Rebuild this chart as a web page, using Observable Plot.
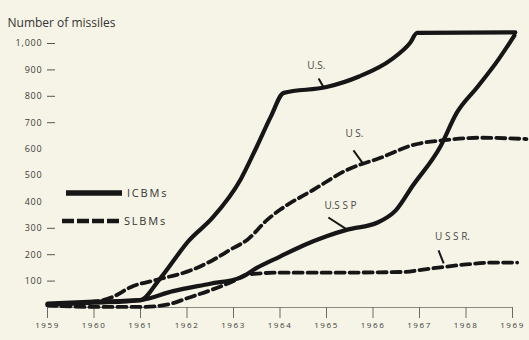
<!DOCTYPE html>
<html><head><meta charset="utf-8">
<script src="https://cdn.jsdelivr.net/npm/d3@7"></script>
<script src="https://cdn.jsdelivr.net/npm/@observablehq/plot@0.6"></script>
<style>
html,body{margin:0;padding:0;background:#f6f4e6;}
#chart svg{display:block;}
</style></head><body><div id="chart"></div>
<script>
// ---- data ----
const yearTicks = [1959,1960,1961,1962,1963,1964,1965,1966,1967,1968,1969];
const valueTicks = [100,200,300,400,500,600,700,800,900,1000];
const dashedValueTicks = [100,200,300,700,800,900,1000];

const usIcbmYears  = [1959,1960,1961.0,1961.4,1962.05,1962.55,1963.15,1963.5,1963.8,1964.08,1965.0,1965.7,1966.4,1966.8,1966.95,1969.06];
const usIcbmValues = [15,22,28,105,255,340,484,609,722,813,835,875,940,1003,1040,1042];

const ussrIcbmYears  = [1959,1960,1961,1961.7,1962.5,1963.15,1963.5,1964,1964.5,1965,1965.45,1966.1,1966.5,1966.85,1967.45,1967.8,1968.25,1968.7,1969.04];
const ussrIcbmValues = [10,18,28,62,90,113,150,193,235,270,295,322,370,460,610,737,836,940,1030];

const usSlbmYears  = [1959,1960,1960.4,1960.8,1961.35,1962.07,1962.57,1962.93,1963.3,1963.73,1964,1964.72,1965.45,1966.16,1966.87,1967.6,1968.3,1969.3];
const usSlbmValues = [12,22,40,78,105,140,181,219,257,333,370,446,522,567,616,635,643,638];

const ussrSlbmYears  = [1959,1960,1961,1961.6,1962,1962.5,1963,1963.3,1964,1965,1966,1966.7,1967,1967.45,1968,1968.6,1969.1];
const ussrSlbmValues = [8,2,2,12,35,65,100,125,132,132,133,135,142,152,163,170,170];

const labelTexts  = ["U.S.","U S.","U.S S P","U S S R."];
const labelYears  = [1964.78,1965.6,1965.3,1967.71];
const labelValues = [917,659,386,269];
const pointerFromYears  = [1964.83,1965.58,1965.04,1967.41];
const pointerFromValues = [867,595,341,216];
const pointerToYears    = [1964.94,1965.77,1965.41,1967.52];
const pointerToValues   = [833,549,299,167];

const titleText = "Number of missiles";
const legendNames = ["ICBMs","SLBMs"];

// ---- build tables ----
function rows(name, ys, vs){ return ys.map((y,i)=>({series:name, year:y, value:vs[i]})); }
const icbmRows = [...rows("US ICBM", usIcbmYears, usIcbmValues), ...rows("USSR ICBM", ussrIcbmYears, ussrIcbmValues)];
const slbmRows = [...rows("US SLBM", usSlbmYears, usSlbmValues), ...rows("USSR SLBM", ussrSlbmYears, ussrSlbmValues)];
const labels = labelTexts.map((t,i)=>({text:t, year:labelYears[i], value:labelValues[i]}));
const pointers = labelTexts.map((t,i)=>({x1:pointerFromYears[i], y1:pointerFromValues[i], x2:pointerToYears[i], y2:pointerToValues[i]}));

const W = 529, H = 340, ML = 47, MR = 17;
const ink = "#161616";

const chart = Plot.plot({
  width: W, height: H,
  marginLeft: ML, marginRight: MR, marginTop: 43, marginBottom: 33,
  style: {background: "#f6f4e6", fontFamily: "'Open Sans', sans-serif", fontSize: "8px", color: "#3a3a3a", overflow: "visible"},
  x: {domain: [1959, 1969]},
  y: {domain: [0, 1000]},
  marks: [
    Plot.ruleY([0], {stroke: "#8a8a84", strokeWidth: 1}),
    Plot.axisX({ticks: yearTicks, tickFormat: d => String(d), tickSize: 11, tickPadding: 4, stroke: "#6a6a66", label: null, fontSize: 8}),
    Plot.axisY({ticks: valueTicks, tickSize: 0, tickPadding: 5, label: null, fontSize: 9}),
    Plot.tickY(dashedValueTicks, {y: d => d, insetRight: W - ML - MR - 8, stroke: "#555", strokeWidth: 1}),
    Plot.line(slbmRows, {x: "year", y: "value", z: "series", curve: "monotone-x", stroke: ink, strokeWidth: 3.8, strokeDasharray: "9,5"}),
    Plot.line(icbmRows, {x: "year", y: "value", z: "series", curve: "monotone-x", stroke: ink, strokeWidth: 4.2, strokeLinejoin: "round"}),
    Plot.link(pointers, {x1: "x1", y1: "y1", x2: "x2", y2: "y2", stroke: ink, strokeWidth: 2}),
    Plot.text(labels, {x: "year", y: "value", text: "text", fontSize: 10, fill: "#4a4a4a", ariaLabel: "annot"}),
    Plot.text([titleText], {frameAnchor: "top-left", dx: -40, dy: -25, textAnchor: "start", fontSize: 12, fill: "#333", ariaLabel: "title"})
  ]
});

const svg = d3.select(chart);
svg.selectAll("g[aria-label=annot] text").style("letter-spacing", "3.2px");
svg.selectAll("g[aria-label=title] text").style("letter-spacing", "1.4px");
svg.selectAll("g[aria-label='x-axis tick label'] text").style("letter-spacing", "1.6px");
svg.selectAll("g[aria-label='y-axis tick label'] text").style("letter-spacing", "0.8px");

// legend (inside plot area)
const lg = svg.append("g").attr("aria-label", "legend");
lg.append("line").attr("x1", 66).attr("x2", 122).attr("y1", 193).attr("y2", 193)
  .attr("stroke", ink).attr("stroke-width", 5.5);
lg.append("line").attr("x1", 62).attr("x2", 120).attr("y1", 221).attr("y2", 221)
  .attr("stroke", ink).attr("stroke-width", 4.5).attr("stroke-dasharray", "12,3");
lg.selectAll("text").data(legendNames).join("text")
  .attr("x", (d,i) => i === 0 ? 127 : 124)
  .attr("y", (d,i) => i === 0 ? 193 : 221)
  .attr("dy", "0.35em")
  .attr("text-anchor", "start")
  .attr("font-size", 11).attr("fill", "#333")
  .style("letter-spacing", "1.8px")
  .text(d => d);

document.getElementById("chart").appendChild(chart);
</script></body></html>
